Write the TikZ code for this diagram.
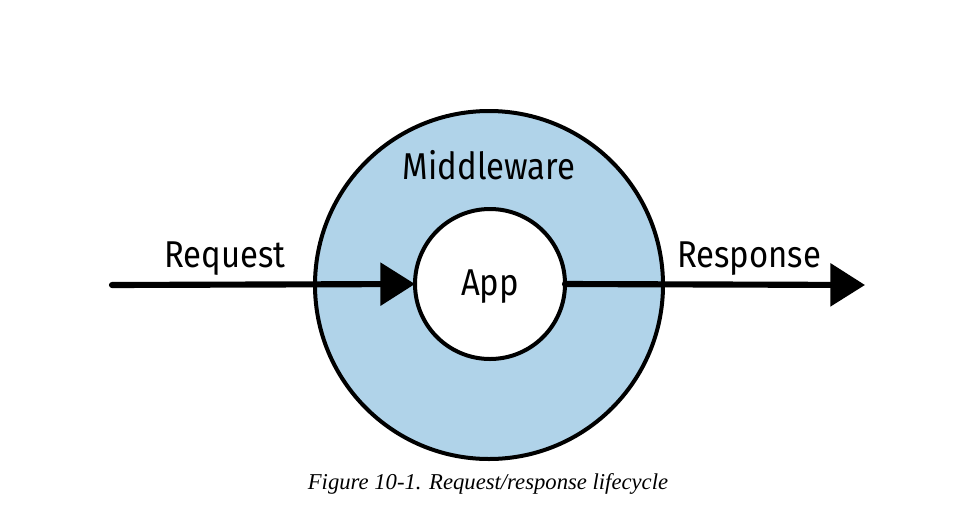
\documentclass[tikz,border=0pt]{standalone}
\usepackage{fontspec}
\usetikzlibrary{arrows.meta}
\newfontfamily\labelfont[FakeStretch=0.88]{Fira Sans}
\newfontfamily\capfont{Liberation Serif}
\definecolor{mwblue}{RGB}{176,211,233}
\tikzset{
  ring/.style={circle, draw=black, line width=3pt, inner sep=0pt, outer sep=0pt},
  lbl/.style={font=\labelfont\fontsize{28}{32}\selectfont, anchor=base, inner sep=0pt},
  flow/.style={line width=4.6pt, line cap=round, -{Triangle[length=26pt,width=31.5pt]}}
}
\begin{document}
\begin{tikzpicture}[x=0.75pt, y=-0.75pt]
\useasboundingbox (0,0) rectangle (975,515);
\node[ring, fill=mwblue, minimum size=261pt] (outer) at (489,285) {};
\node[ring, fill=white, minimum size=112.5pt] (inner) at (490,284) {};
\coordinate (start) at (112,285);
\coordinate (finish) at (865,285);
\draw[flow] (start) -- (inner.west);
\draw[flow] (inner.east) -- (finish);
\node[lbl] (mw) at (489,179) {Middleware};
\node[lbl] (app) at (490,295) {App};
\node[lbl] (req) at (225,267) {Request};
\node[lbl] (resp) at (749,267) {Response};
\node[font=\capfont\itshape\fontsize{17}{20}\selectfont, anchor=base, inner sep=0pt] (cap) at (488,489) {Figure 10-1. Request/response lifecycle};
\end{tikzpicture}
\end{document}
